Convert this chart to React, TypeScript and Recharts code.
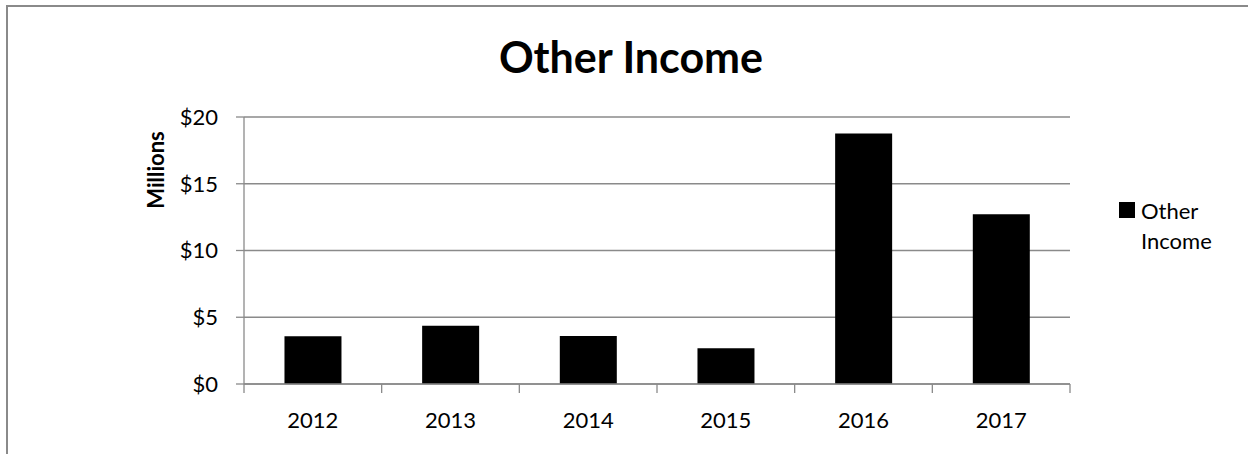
import { Bar, BarChart, CartesianGrid, XAxis, YAxis } from "recharts";

const years = ["2012", "2013", "2014", "2015", "2016", "2017"];
const otherIncome = [3.57, 4.37, 3.6, 2.67, 18.77, 12.72];
const yTicks = [0, 5, 10, 15, 20];

const data = years.map((year, i) => ({ year, value: otherIncome[i] }));

const FONT = "Lato, 'Open Sans', sans-serif";
const GRAY = "#8a8a8a";
const PLOT_W = 826;

// Excel-style: tick marks sit on the category edges, label in the middle
function YearTick({ x, y, payload }: any) {
  const half = payload.offset || PLOT_W / years.length / 2;
  const last = payload.index === years.length - 1;
  return (
    <g>
      <line x1={x - half} x2={x - half} y1={y} y2={y + 9} stroke={GRAY} strokeWidth={1.3} />
      {last && <line x1={x + half} x2={x + half} y1={y} y2={y + 9} stroke={GRAY} strokeWidth={1.3} />}
      <text x={x} y={y + 44} textAnchor="middle" fontFamily={FONT} fontSize={22} fill="#000">
        {payload.value}
      </text>
    </g>
  );
}

export default function App() {
  return (
    <div style={{ position: "absolute", left: 0, top: 0, width: 1248, height: 454, background: "#fff", overflow: "hidden" }}>
      <div
        style={{
          position: "absolute",
          left: 6,
          top: 5,
          width: 1260,
          height: 470,
          borderLeft: `2px solid ${GRAY}`,
          borderTop: `2px solid ${GRAY}`,
        }}
      />
      <div
        style={{
          position: "absolute",
          left: 0,
          top: 35,
          width: 1262,
          textAlign: "center",
          fontFamily: FONT,
          fontWeight: 700,
          fontSize: 43,
          lineHeight: "43px",
          color: "#000",
        }}
      >
        Other Income
      </div>
      <div
        style={{
          position: "absolute",
          left: 155,
          top: 170,
          transform: "translate(-50%, -50%) rotate(-90deg)",
          fontFamily: FONT,
          fontWeight: 700,
          fontSize: 22,
          color: "#000",
          whiteSpace: "nowrap",
        }}
      >
        Millions
      </div>
      <div
        style={{
          position: "absolute",
          left: 1119,
          top: 196,
          display: "flex",
          alignItems: "flex-start",
          fontFamily: FONT,
          fontSize: 22,
          color: "#000",
        }}
      >
        <span style={{ width: 16, height: 16, background: "#000", marginTop: 6, marginRight: 6, flex: "none" }} />
        <span style={{ lineHeight: "30px" }}>
          Other
          <br />
          Income
        </span>
      </div>
      <BarChart
        width={1248}
        height={454}
        data={data}
        margin={{ top: 117, right: 178, bottom: 20, left: 184 }}
        barCategoryGap="29.4%"
        style={{ position: "absolute", left: 0, top: 0 }}
      >
        <CartesianGrid vertical={false} stroke={GRAY} strokeWidth={1.3} />
        <XAxis
          dataKey="year"
          height={50}
          interval={0}
          tickSize={0}
          tickMargin={0}
          tickLine={false}
          tick={<YearTick />}
          axisLine={{ stroke: GRAY, strokeWidth: 1.3 }}
        />
        <YAxis
          width={60}
          domain={[0, 20]}
          ticks={yTicks}
          tickFormatter={(v) => `$${v}`}
          tickSize={8}
          tickMargin={18}
          axisLine={{ stroke: GRAY, strokeWidth: 1.3 }}
          tickLine={{ stroke: GRAY, strokeWidth: 1.3 }}
          tick={{ fontFamily: FONT, fontSize: 22, fill: "#000" }}
        />
        <Bar dataKey="value" name="Other Income" fill="#000" isAnimationActive={false} />
      </BarChart>
    </div>
  );
}
